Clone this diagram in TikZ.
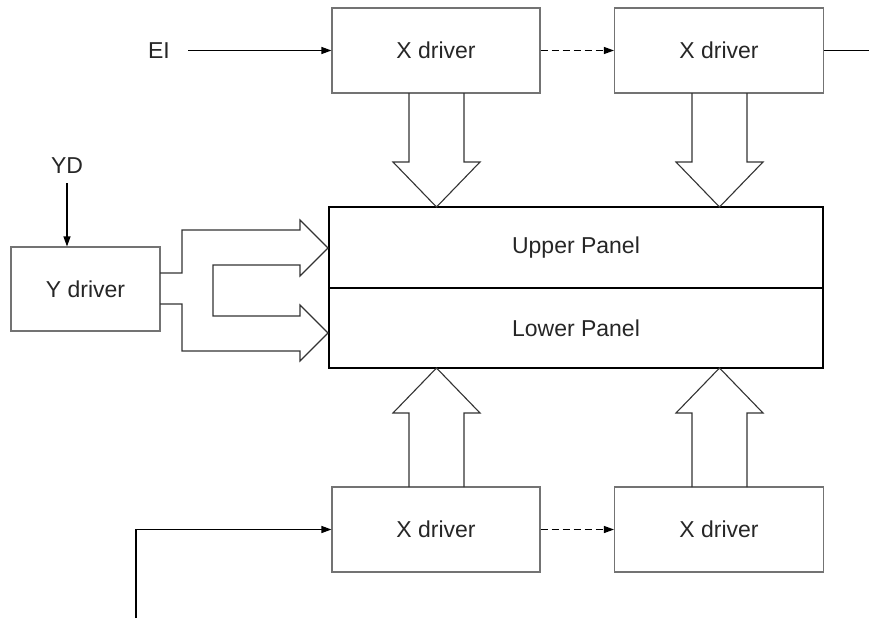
\documentclass[tikz,border=0pt]{standalone}
\usepackage{fontspec}
\setmainfont{Liberation Sans}
\usetikzlibrary{arrows.meta,calc}
\begin{document}
\begin{tikzpicture}[x=1pt,y=-1pt,
  box/.style={draw=black!55,line width=1.1pt,inner sep=0pt,fill=white,text=black!85,
    font=\fontsize{23}{27}\selectfont},
  pnl/.style={draw=black,line width=1.3pt,inner sep=0pt,text=black!85,
    font=\fontsize{23}{27}\selectfont},
  lbl/.style={inner sep=0pt,text=black!85,font=\fontsize{23}{27}\selectfont},
  arr/.style={line width=1.1pt,-{Triangle[length=10pt,width=7pt]}},
  blk/.style={line width=1.1pt,black!80,line join=miter}]
\useasboundingbox (0,0) rectangle (869,618);
% boxes
\node[box,minimum width=208pt,minimum height=85pt] (xt1) at (436,50.5) {X driver};
\node[box,minimum width=209pt,minimum height=85pt] (xt2) at (719,50.5) {X driver};
\node[box,minimum width=208pt,minimum height=85pt] (xb1) at (436,529.5) {X driver};
\node[box,minimum width=209pt,minimum height=85pt] (xb2) at (719,529.5) {X driver};
\node[box,minimum width=149pt,minimum height=84pt] (yd) at (85.5,289) {Y driver};
\node[pnl,minimum width=494pt,minimum height=81pt] (up) at (576,247.5) {Upper Panel};
\node[pnl,minimum width=494pt,minimum height=80pt] (lo) at (576,328) {Lower Panel};
% labels
\node[lbl] (ei) at (159,50.5) {EI};
\node[lbl] (ydl) at (67,166) {YD};
\coordinate (outr) at (869,50.5);
\coordinate (inb) at (136,618);
% connectors
\draw[arr,shorten <=18pt] (ei.east) -- (xt1.west);
\draw[arr,dashed,dash pattern=on 7pt off 4pt] (xt1.east) -- (xt2.west);
\draw[line width=1.1pt] (xt2.east) -- (outr);
\draw[arr,dashed,dash pattern=on 7pt off 4pt] (xb1.east) -- (xb2.west);
\draw[arr] (inb) |- (xb1.west);
\draw[arr,shorten <=9pt] (ydl.south) -- (ydl.south |- yd.north);
% block arrows down (top drivers)
\draw[blk] (409,93) -- (409,162) -- (393,162) -- (436.5,207) -- (480,162) -- (464,162) -- (464,93);
\draw[blk] (692,93) -- (692,162) -- (676,162) -- (719.5,207) -- (763,162) -- (747,162) -- (747,93);
% block arrows up (bottom drivers)
\draw[blk] (409,487) -- (409,413) -- (393,413) -- (436.5,368) -- (480,413) -- (464,413) -- (464,487);
\draw[blk] (692,487) -- (692,413) -- (676,413) -- (719.5,368) -- (763,413) -- (747,413) -- (747,487);
% Y driver block arrows
\draw[blk] (160,273) -- (182,273) -- (182,230) -- (300,230) -- (300,220) -- (328,248)
  -- (300,276) -- (300,265) -- (213,265) -- (213,316) -- (300,316) -- (300,305)
  -- (328,333) -- (300,361) -- (300,351) -- (182,351) -- (182,304) -- (160,304);
\end{tikzpicture}
\end{document}
